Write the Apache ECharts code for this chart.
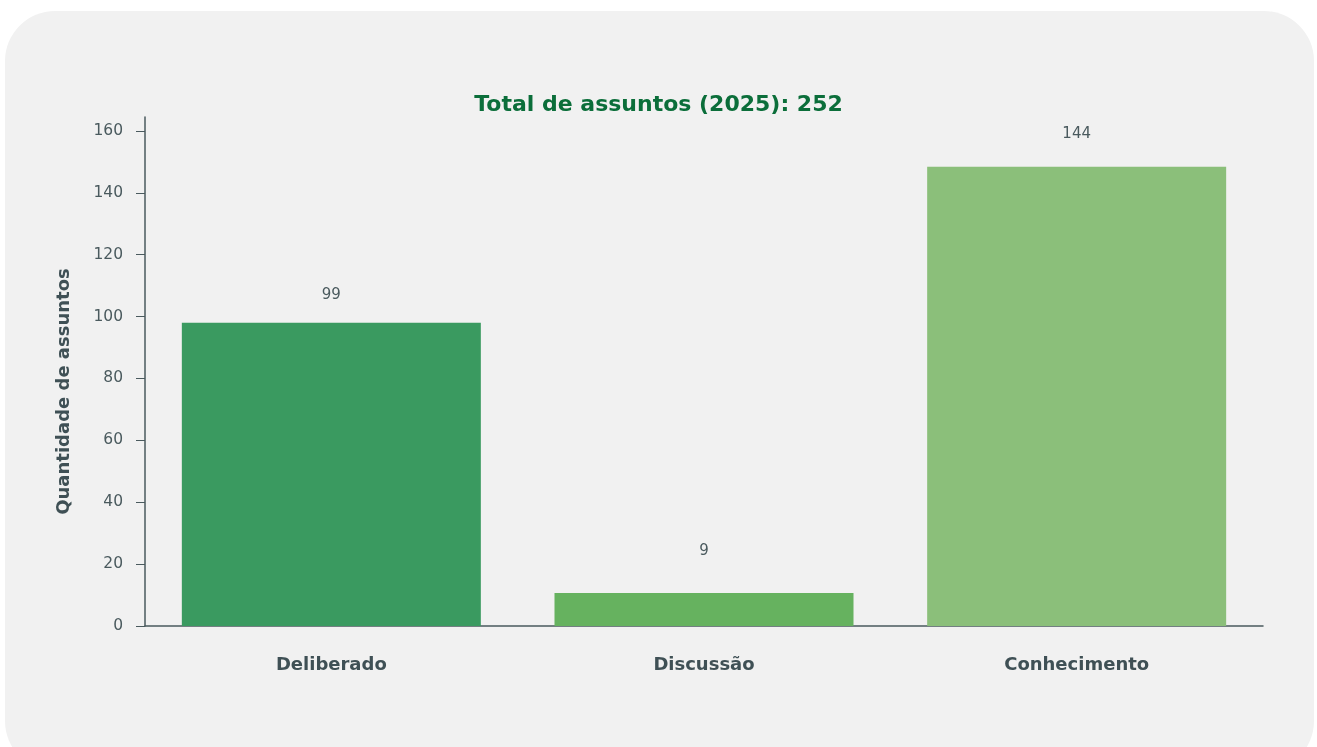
<!DOCTYPE html>
<html>
<head>
<meta charset="utf-8">
<script src="https://cdn.jsdelivr.net/npm/echarts@6/dist/echarts.min.js"></script>
<style>
  html, body { margin: 0; padding: 0; background: #ffffff; }
  #panel {
    position: absolute; left: 5px; top: 11px; width: 1309px; height: 760px;
    background: #f1f1f1; border-radius: 50px;
  }
  #chart { position: absolute; left: 0; top: 0; width: 1317px; height: 747px; }
</style>
</head>
<body>
<div id="panel"></div>
<div id="chart"></div>
<script>
var categories = ['Deliberado', 'Discussão', 'Conhecimento'];
// bar heights as drawn in the picture
var barValues = [98, 10.7, 148.4];
// value labels as printed above the bars
var barLabels = ['99', '9', '144'];
var barColors = ['#3a9a60', '#66b25f', '#8bbf7a'];
var yTicks = [0, 20, 40, 60, 80, 100, 120, 140, 160];

var chart = echarts.init(document.getElementById('chart'));
var labelGap = [20, 34, 25];
var axisColor = '#4a5a5e';

var option = {
    backgroundColor: 'transparent',
    textStyle: { fontFamily: '"DejaVu Sans", sans-serif' },
    title: {
        text: 'Total de assuntos (2025): 252',
        left: 'center',
        top: 89,
        textStyle: { color: '#0b6e3a', fontSize: 22, fontWeight: 'bold' }
    },
    grid: { left: 145, right: 54, top: 117, bottom: 121 },
    xAxis: {
        type: 'category',
        data: categories,
        axisLine: { lineStyle: { color: axisColor, width: 1.5 } },
        axisTick: { alignWithLabel: true, length: 8, lineStyle: { color: axisColor } },
        axisLabel: { color: '#3f5055', fontSize: 18, fontWeight: 'bold', margin: 30 }
    },
    yAxis: {
        type: 'value',
        min: 0,
        max: 164.5,
        name: 'Quantidade de assuntos',
        nameLocation: 'middle',
        nameGap: 72,
        nameTextStyle: { color: '#3f5055', fontSize: 18, fontWeight: 'bold', padding: [0, 0, 0, -40] },
        splitLine: { show: false },
        axisLine: { show: true, lineStyle: { color: axisColor, width: 1.5 } },
        axisTick: { show: true, length: 9, customValues: yTicks, lineStyle: { color: axisColor } },
        axisLabel: { color: axisColor, fontSize: 15.5, margin: 22, customValues: yTicks }
    },
    series: [{
        type: 'bar',
        barWidth: 299,
        data: barValues.map(function (v, i) {
            return {
                value: v,
                itemStyle: { color: barColors[i] },
                label: {
                    show: true,
                    position: 'top',
                    distance: labelGap[i],
                    formatter: barLabels[i],
                    color: axisColor,
                    fontSize: 15
                }
            };
        })
    }]
};
chart.setOption(option);
</script>
</body>
</html>
